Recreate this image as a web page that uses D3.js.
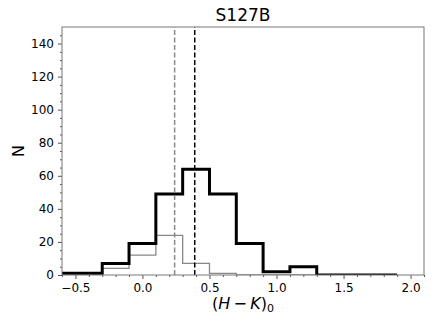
<!DOCTYPE html>
<html lang="en">
<head>
<meta charset="UTF-8">
<title>S127B</title>
<script src="https://d3js.org/d3.v7.min.js"></script>
<style>
  body { margin: 0; background: #fff; }
  svg { display: block; font-family: "DejaVu Sans", sans-serif; }
</style>
</head>
<body>
<svg id="main" width="436" height="326"></svg>
<script>
// bin edges of the (H-K)_0 histograms, width 0.2
const binEdges = [-0.7, -0.5, -0.3, -0.1, 0.1, 0.3, 0.5, 0.7, 0.9, 1.1, 1.3, 1.5, 1.7, 1.9];
const allCounts = [1, 1, 7, 19, 49, 64, 49, 19, 2, 5, 0, 0, 0];
const subCounts = [0, 0, 4, 12, 24, 7, 1, 0, 0, 0, 0, 0, 0];
// median lines
const medianAll = 0.39;
const medianSub = 0.24;
const xTicks = [-0.5, 0.0, 0.5, 1.0, 1.5, 2.0];
const yTicks = [0, 20, 40, 60, 80, 100, 120, 140];

const W = 436, H = 326;
const m = {left: 62, right: 12, top: 27, bottom: 51};
const svg = d3.select('svg#main');

const x = d3.scaleLinear().domain([-0.6, 2.1]).range([m.left, W - m.right]);
const y = d3.scaleLinear().domain([0, 150]).range([H - m.bottom, m.top]);

svg.append('clipPath').attr('id', 'clip')
  .append('rect')
  .attr('x', m.left).attr('y', m.top)
  .attr('width', W - m.left - m.right).attr('height', H - m.top - m.bottom);

function stepPoints(counts) {
  let pts = [[binEdges[0], 0]];
  counts.forEach(function(c, i) {
    pts.push([binEdges[i], c]);
    pts.push([binEdges[i + 1], c]);
  });
  pts.push([binEdges[binEdges.length - 1], 0]);
  return pts;
}

const line = d3.line().x(d => x(d[0])).y(d => y(d[1]));
const plot = svg.append('g').attr('clip-path', 'url(#clip)');

plot.append('path')
  .attr('d', line(stepPoints(subCounts)))
  .attr('fill', 'none').attr('stroke', '#888').attr('stroke-width', 1.3);

plot.append('path')
  .attr('d', line(stepPoints(allCounts)))
  .attr('fill', 'none').attr('stroke', '#000').attr('stroke-width', 3)
  .attr('stroke-linejoin', 'miter');

plot.append('line')
  .attr('x1', x(medianSub)).attr('x2', x(medianSub))
  .attr('y1', y(0)).attr('y2', y(150))
  .attr('stroke', '#888').attr('stroke-width', 1.5).attr('stroke-dasharray', '5,2.5');

plot.append('line')
  .attr('x1', x(medianAll)).attr('x2', x(medianAll))
  .attr('y1', y(0)).attr('y2', y(150))
  .attr('stroke', '#000').attr('stroke-width', 1.5).attr('stroke-dasharray', '5,2.5');

// axes
const xAxis = svg.append('g').attr('transform', `translate(0,${H - m.bottom})`)
  .call(d3.axisBottom(x).tickValues(xTicks).tickFormat(d3.format('.1f')).tickSize(4).tickPadding(4));
svg.append('g').attr('transform', `translate(0,${H - m.bottom})`)
  .call(d3.axisBottom(x).tickValues(d3.range(-0.6, 2.11, 0.1).map(v => +v.toFixed(1)).filter(v => xTicks.indexOf(v) < 0))
    .tickFormat('').tickSize(2))
  .select('.domain').remove();

const yAxis = svg.append('g').attr('transform', `translate(${m.left},0)`)
  .call(d3.axisLeft(y).tickValues(yTicks).tickSize(4).tickPadding(4));
svg.append('g').attr('transform', `translate(${m.left},0)`)
  .call(d3.axisLeft(y).tickValues(d3.range(5, 150, 5).filter(v => v % 20 != 0)).tickFormat('').tickSize(2))
  .select('.domain').remove();

svg.selectAll('.tick line').attr('stroke', '#555');
svg.selectAll('.tick text').attr('font-size', 12).attr('fill', '#000')
  .attr('font-family', '"DejaVu Sans", sans-serif');
xAxis.select('.domain').remove();
yAxis.select('.domain').remove();

// frame
svg.append('rect')
  .attr('x', m.left).attr('y', m.top)
  .attr('width', W - m.left - m.right).attr('height', H - m.top - m.bottom)
  .attr('fill', 'none').attr('stroke', '#777').attr('stroke-width', 1);

// labels
svg.append('text')
  .attr('x', (m.left + W - m.right) / 2).attr('y', 21)
  .attr('text-anchor', 'middle').attr('font-size', 17)
  .text('S127B');

svg.append('text')
  .attr('transform', `translate(24,${(m.top + H - m.bottom) / 2}) rotate(-90)`)
  .attr('text-anchor', 'middle').attr('font-size', 16)
  .text('N');

const xl = svg.append('text')
  .attr('x', (m.left + W - m.right) / 2).attr('y', 309)
  .attr('text-anchor', 'middle').attr('font-size', 16);
xl.append('tspan').text('(');
xl.append('tspan').attr('font-style', 'italic').text('H');
xl.append('tspan').text('\u2009\u2212\u2009');
xl.append('tspan').attr('font-style', 'italic').text('K');
xl.append('tspan').text(')');
xl.append('tspan').attr('font-size', 11).attr('dy', 3).text('0');
</script>
</body>
</html>
